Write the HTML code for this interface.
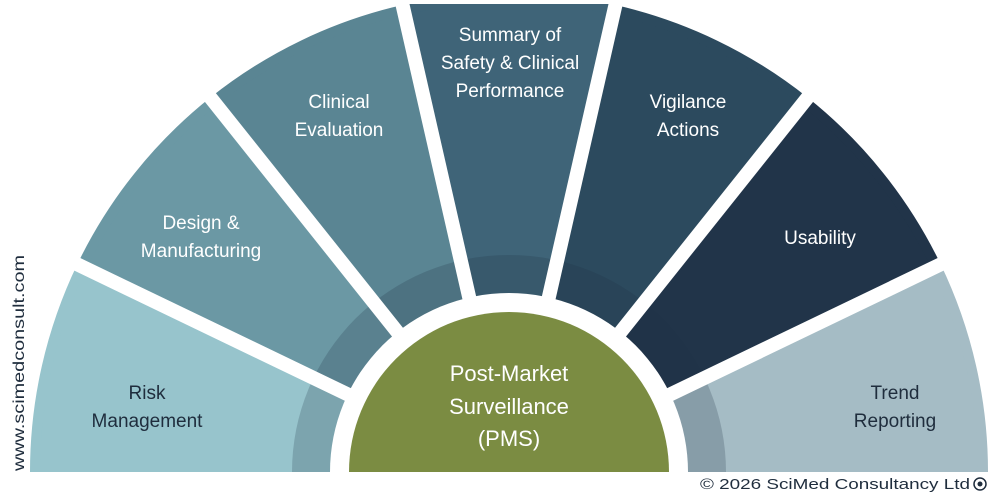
<!DOCTYPE html>
<html><head><meta charset="utf-8"><style>
html,body{margin:0;padding:0;background:#fff;width:990px;height:504px;overflow:hidden;}
svg{display:block;}
text{font-family:"Liberation Sans",sans-serif;}
</style></head><body>
<svg width="990" height="504" viewBox="0 0 990 504" xmlns="http://www.w3.org/2000/svg">
<defs><clipPath id="c"><rect x="0" y="0" width="990" height="472"/></clipPath></defs>
<g clip-path="url(#c)">
<g stroke-linejoin="round" stroke-width="10">
<path d="M509,472 L35,472 A474,474 0 0 1 81.9,266.3 Z" fill="#97c4cc" stroke="#97c4cc"/>
<path d="M509,472 L81.9,266.3 A474,474 0 0 1 213.5,101.4 Z" fill="#6b98a4" stroke="#6b98a4"/>
<path d="M509,472 L213.5,101.4 A474,474 0 0 1 403.5,9.9 Z" fill="#5a8593" stroke="#5a8593"/>
<path d="M509,472 L403.5,9.9 A474,474 0 0 1 614.5,9.9 Z" fill="#3f6478" stroke="#3f6478"/>
<path d="M509,472 L614.5,9.9 A474,474 0 0 1 804.5,101.4 Z" fill="#2c4a5e" stroke="#2c4a5e"/>
<path d="M509,472 L804.5,101.4 A474,474 0 0 1 936.1,266.3 Z" fill="#213449" stroke="#213449"/>
<path d="M509,472 L936.1,266.3 A474,474 0 0 1 983,472 Z" fill="#a5bcc5" stroke="#a5bcc5"/>
</g>
<circle cx="509" cy="472" r="217" fill="rgba(30,50,70,0.22)"/>
<g stroke="#fff" stroke-width="14">
<line x1="509" y1="472" x2="60" y2="256"/>
<line x1="509" y1="472" x2="198" y2="82"/>
<line x1="509" y1="472" x2="398" y2="-15"/>
<line x1="509" y1="472" x2="620" y2="-15"/>
<line x1="509" y1="472" x2="820" y2="82"/>
<line x1="509" y1="472" x2="958" y2="256"/>
</g>
<rect x="0" y="0" width="990" height="4" fill="#fff"/>
<circle cx="509" cy="472" r="179" fill="#fff"/>
<circle cx="509" cy="472" r="160" fill="#7b8c42"/>
</g>
<g fill="#fff" font-size="19" text-anchor="middle">
<text x="201" y="229">Design &amp;</text><text x="201" y="257">Manufacturing</text>
<text x="339" y="108">Clinical</text><text x="339" y="136">Evaluation</text>
<text x="510" y="41">Summary of</text><text x="510" y="69">Safety &amp; Clinical</text><text x="510" y="97">Performance</text>
<text x="688" y="108">Vigilance</text><text x="688" y="136">Actions</text>
<text x="820" y="244">Usability</text>
</g>
<g fill="#1f2d3d" font-size="19" text-anchor="middle">
<text x="147" y="399">Risk</text><text x="147" y="427">Management</text>
<text x="895" y="399">Trend</text><text x="895" y="427">Reporting</text>
</g>
<g fill="#fff" font-size="22" text-anchor="middle">
<text x="509" y="381">Post-Market</text><text x="509" y="414">Surveillance</text><text x="509" y="446">(PMS)</text>
</g>
<text transform="translate(24,471) rotate(-90)" font-size="16" fill="#1f2d3d" textLength="216" lengthAdjust="spacingAndGlyphs">www.scimedconsult.com</text>
<text x="700" y="489" font-size="15" fill="#1f2d3d" textLength="270" lengthAdjust="spacingAndGlyphs">© 2026 SciMed Consultancy Ltd</text>
<circle cx="980" cy="484" r="6" fill="none" stroke="#1f2d3d" stroke-width="1.5"/>
<circle cx="980" cy="484" r="2.5" fill="#1f2d3d"/>
</svg>
</body></html>
